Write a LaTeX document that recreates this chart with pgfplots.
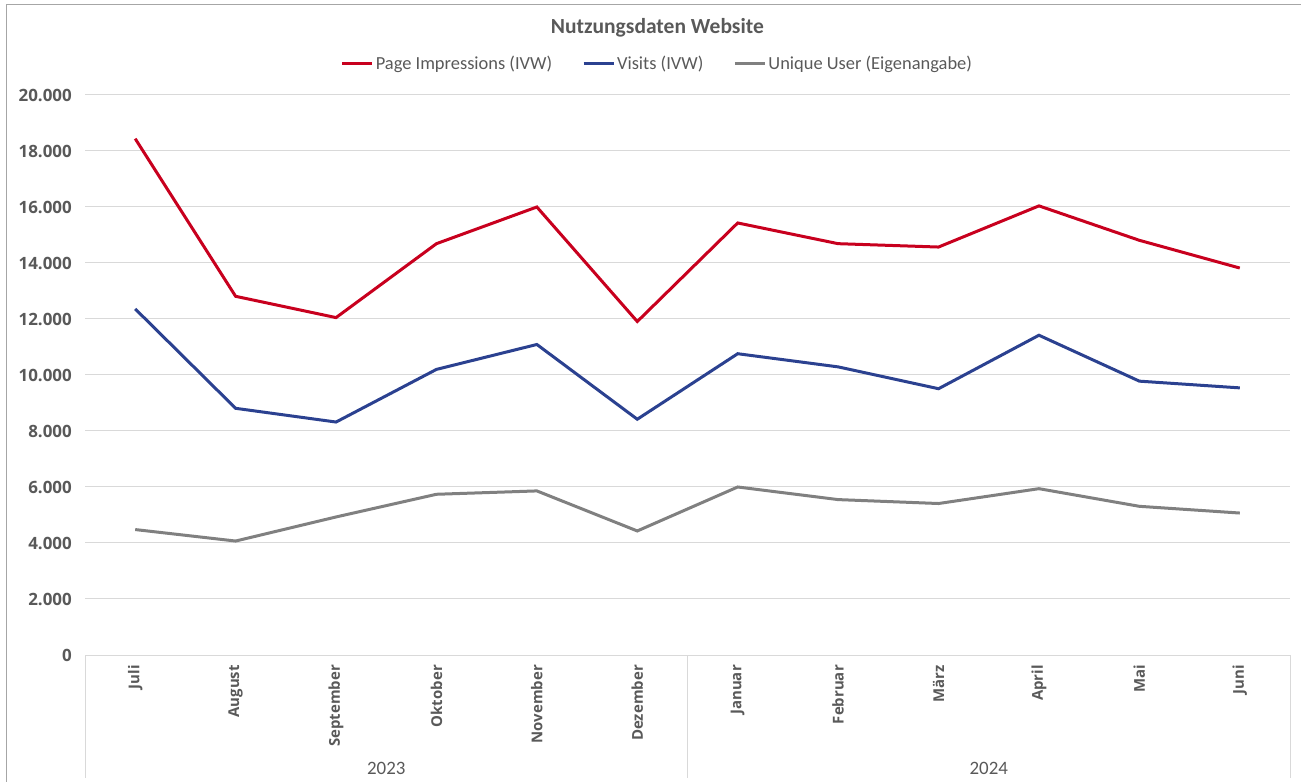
\documentclass[border=0pt]{standalone}
\usepackage{fontspec}
\setmainfont{Carlito}
\newfontfamily\tickfont{Open Sans}
\usepackage{pgfplots}
\pgfplotsset{compat=1.18}
\definecolor{pired}{HTML}{C8001E}
\definecolor{viblue}{HTML}{2B4190}
\definecolor{uugray}{HTML}{808080}
\definecolor{txtgray}{HTML}{595959}
\definecolor{gridgray}{HTML}{D9D9D9}
\definecolor{framegray}{HTML}{A6A6A6}

\pgfplotstableread{
x pi visits uu
0 18440 12360 4480
1 12810 8810 4070
2 12050 8320 4930
3 14690 10200 5740
4 16000 11090 5860
5 11910 8420 4430
6 15430 10760 6000
7 14690 10290 5550
8 14570 9510 5410
9 16040 11420 5940
10 14810 9780 5310
11 13820 9540 5070
}\datatable

\begin{document}
\begin{tikzpicture}
\path[use as bounding box] (0,0) rectangle (1301bp,782bp);
\draw[framegray, line width=1.5bp] (6.5bp,0) -- (6.5bp,777.5bp) -- (1301bp,777.5bp);
\begin{axis}[
  at={(85bp,127bp)}, anchor=south west,
  scale only axis, width=1205bp, height=560bp,
  xmin=-0.5, xmax=11.5, ymin=0, ymax=20000,
  ytick={0,2000,...,20000},
  scaled y ticks=false,
  yticklabel={\tickfont\bfseries\fontsize{17}{17}\selectfont\pgfmathprintnumber[1000 sep={.},assume math mode=true]{\tick}},
  xtick={0,...,11},
  xticklabels={Juli,August,September,Oktober,November,Dezember,Januar,Februar,März,April,Mai,Juni},
  axis line style={draw=none},
  ymajorgrids, grid style={gridgray, line width=1bp},
  major tick length=0pt,
  tick label style={text=txtgray, inner sep=0pt},
  yticklabel shift=13bp,
  xticklabel style={font=\tickfont\bfseries\fontsize{15}{15}\selectfont, rotate=90, anchor=east},
  xticklabel shift=10bp,
  clip=false,
  legend columns=3,
  legend style={at={(0.475,1.057)}, anchor=center, draw=none, fill=none,
    font=\fontsize{18.5}{18.5}\selectfont, text=txtgray, inner xsep=0pt,
    /tikz/every even column/.append style={column sep=28bp}},
  legend image code/.code={\draw[#1] (0bp,0bp) -- (30bp,0bp);},
]
\addplot[pired, line width=3bp] table[x=x, y=pi] {\datatable};
\addlegendentry{Page Impressions (IVW)}
\addplot[viblue, line width=3bp] table[x=x, y=visits] {\datatable};
\addlegendentry{Visits (IVW)}
\addplot[uugray, line width=3bp] table[x=x, y=uu] {\datatable};
\addlegendentry{Unique User (Eigenangabe)}

\draw[gridgray, line width=1bp] (axis cs:-0.5,0) -- ([yshift=-123bp]axis cs:-0.5,0);
\draw[gridgray, line width=1bp] (axis cs:5.5,0) -- ([yshift=-123bp]axis cs:5.5,0);
\draw[gridgray, line width=1bp] (axis cs:11.5,0) -- ([yshift=-123bp]axis cs:11.5,0);
\node[font=\fontsize{19}{19}\selectfont, text=txtgray] at ([yshift=-113bp]axis cs:2.5,0) {2023};
\node[font=\fontsize{19}{19}\selectfont, text=txtgray] at ([yshift=-113bp]axis cs:8.5,0) {2024};
\node[font=\bfseries\fontsize{21.6}{21.6}\selectfont, text=txtgray] at (rel axis cs:0.475,1.12) {Nutzungsdaten Website};
\end{axis}
\end{tikzpicture}
\end{document}
